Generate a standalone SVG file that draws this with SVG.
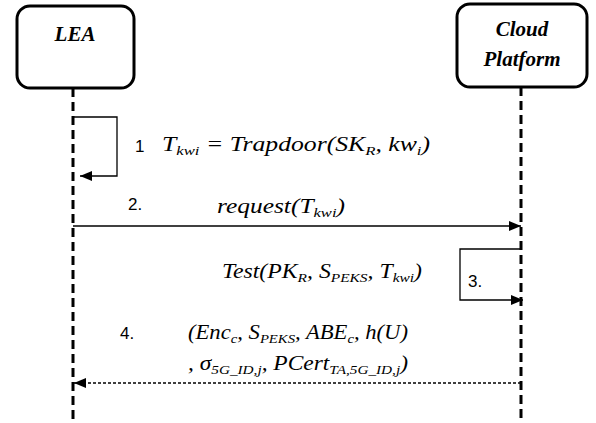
<svg xmlns="http://www.w3.org/2000/svg" width="596" height="423" viewBox="0 0 596 423">
<style>
.box{fill:#fff;stroke:#000;stroke-width:3}
.title{font-family:"Liberation Serif",serif;font-weight:bold;font-style:italic;font-size:21px;text-anchor:middle}
.life{stroke:#000;stroke-width:3;stroke-dasharray:9 5;fill:none}
.msg{stroke:#000;stroke-width:1.3;fill:none}
.num{font-family:"Liberation Sans",sans-serif;font-size:17px}
.math{font-family:"Liberation Serif",serif;font-style:italic;font-size:20px}
.sub{font-size:13px}
</style>
<defs>
<marker id="ah" viewBox="0 0 12 10" refX="12" refY="5" markerWidth="12" markerHeight="10" markerUnits="userSpaceOnUse" orient="auto">
<path d="M0,0 L12,5 L0,10 Z" fill="#000"/>
</marker>
</defs>
<rect width="596" height="423" fill="#fff"/>
<g id="lifelines">
<line class="life" x1="73" y1="88" x2="73" y2="423"/>
<line class="life" x1="521" y1="87" x2="521" y2="423"/>
</g>
<g id="lea">
<rect class="box" x="17" y="6" width="117" height="82" rx="13"/>
<text class="title" x="75" y="41">LEA</text>
</g>
<g id="cloud">
<rect class="box" x="457" y="4" width="130" height="83" rx="13"/>
<text class="title" x="522" y="36">Cloud</text>
<text class="title" x="522" y="66">Platform</text>
</g>
<g id="connectors">
<path class="msg" d="M73,117 H117 V176 H80" marker-end="url(#ah)"/>
<line class="msg" x1="73" y1="226" x2="521" y2="226" marker-end="url(#ah)"/>
<path class="msg" d="M521,249 H460 V300 H523" marker-end="url(#ah)"/>
<line class="msg" x1="521" y1="383" x2="74" y2="383" stroke-dasharray="3 2" stroke-width="1" marker-end="url(#ah)"/>
</g>
<g id="labels">
<text class="num" x="135" y="152">1</text>
<text class="math" x="162" y="151" textLength="268" lengthAdjust="spacingAndGlyphs">T<tspan class="sub" dy="4">kwi</tspan><tspan dy="-4"> = Trapdoor(SK</tspan><tspan class="sub" dy="4">R</tspan><tspan dy="-4">, kw</tspan><tspan class="sub" dy="4">i</tspan><tspan dy="-4">)</tspan></text>
<text class="num" x="128" y="210">2.</text>
<text class="math" x="217" y="213" textLength="128" lengthAdjust="spacingAndGlyphs">request(T<tspan class="sub" dy="4">kwi</tspan><tspan dy="-4">)</tspan></text>
<text class="num" x="468" y="287">3.</text>
<text class="math" x="222" y="278" textLength="200" lengthAdjust="spacingAndGlyphs">Test(PK<tspan class="sub" dy="4">R</tspan><tspan dy="-4">, S</tspan><tspan class="sub" dy="4">PEKS</tspan><tspan dy="-4">, T</tspan><tspan class="sub" dy="4">kwi</tspan><tspan dy="-4">)</tspan></text>
<text class="num" x="120" y="339">4.</text>
<text class="math" x="188" y="339" textLength="220" lengthAdjust="spacingAndGlyphs">(Enc<tspan class="sub" dy="4">c</tspan><tspan dy="-4">, S</tspan><tspan class="sub" dy="4">PEKS</tspan><tspan dy="-4">, ABE</tspan><tspan class="sub" dy="4">c</tspan><tspan dy="-4">, h(U)</tspan></text>
<text class="math" x="188" y="370" textLength="220" lengthAdjust="spacingAndGlyphs">, σ<tspan class="sub" dy="4">5G_ID,j</tspan><tspan dy="-4">, PCert</tspan><tspan class="sub" dy="4">TA,5G_ID,j</tspan><tspan dy="-4">)</tspan></text>
</g>
</svg>
